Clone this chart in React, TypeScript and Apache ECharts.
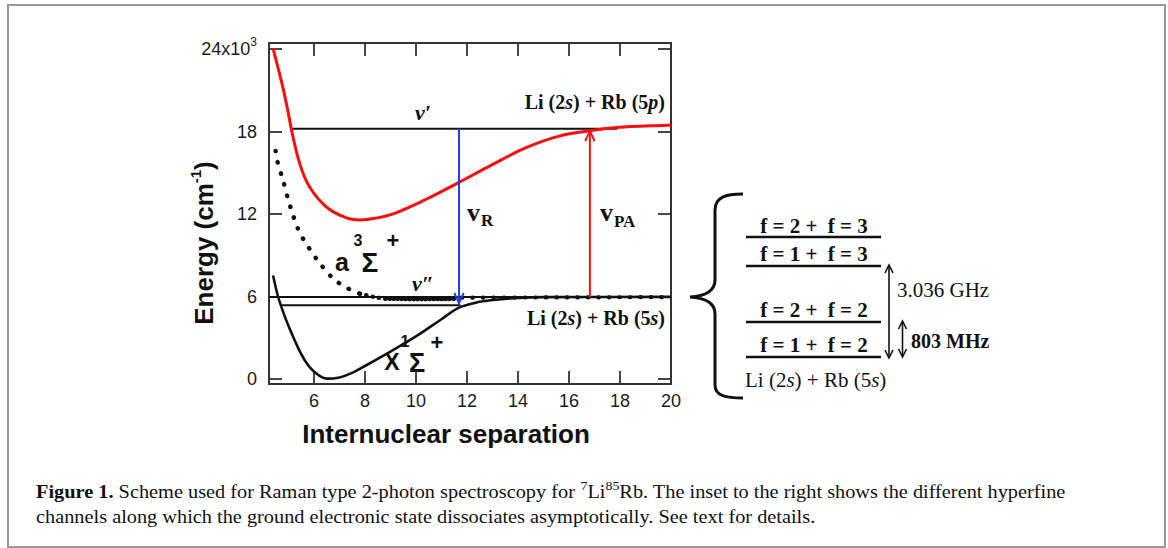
import React, { useEffect, useRef } from "react";
import * as echarts from "echarts";

const xTicks = [6, 8, 10, 12, 14, 16, 18, 20];
const yTicks = [0, 6, 12, 18, 24];
const xRange = [4.24, 20];
const yRange = [-0.36, 24.45];

// excited-state potential (red)
const excitedCurve = [
  [4.4, 24.05], [4.6, 22.6], [4.8, 21.1], [4.97, 19.6], [5.13, 18.06], [5.45, 15.64],
  [5.84, 13.95], [6.5, 12.5], [7.28, 11.72], [7.8, 11.58], [8.4, 11.7], [9.11, 12.02],
  [10.42, 13.1], [11.69, 14.31], [13.03, 15.64], [14.34, 16.85], [15.65, 17.69],
  [16.82, 18.06], [17.87, 18.3], [19.83, 18.47], [20.0, 18.48],
];
// ground X singlet potential (black solid)
const groundXCurve = [
  [4.4, 7.54], [4.6, 5.97], [4.85, 4.6], [5.1, 3.45], [5.4, 2.2], [5.7, 1.2], [6.0, 0.55],
  [6.5, 0.03], [7.0, 0.12], [7.5, 0.45], [8.0, 0.95], [9.0, 2.0], [10.0, 3.1], [11.0, 4.35],
  [11.69, 5.2], [12.5, 5.62], [13.03, 5.76], [14.0, 5.9], [15.0, 5.96], [20.0, 5.98],
];
// triplet a potential (black dotted)
const tripletSteep = [
  [4.5, 16.6], [4.56, 15.9], [4.8, 14.4], [4.97, 13.2], [5.16, 12.06], [5.36, 11.0],
  [5.58, 10.2], [6.1, 8.75], [6.76, 7.3], [7.28, 6.65], [7.8, 6.21],
];
const tripletBend = [[7.8, 6.21], [8.5, 5.92], [8.8, 5.84]];
const tripletFlat = [[8.8, 5.84], [10.0, 5.8], [11.5, 5.82]];
const tripletTail = [[11.8, 5.92], [20.0, 5.96]];

// levels and transitions
const vPrimeLevel = [[5.13, 18.22], [17.9, 18.22]];
const asymptoteLevel = [[4.24, 5.97], [20.0, 5.97]];
const vDoublePrimeLevel = [[4.68, 5.37], [11.75, 5.37]];
const ramanArrow = [[11.69, 18.22], [11.69, 5.37]];
const paArrow = [[16.82, 5.97], [16.82, 18.2]];

const hyperfineLabels = ["f = 2 +  f = 3", "f = 1 +  f = 3", "f = 2 +  f = 2", "f = 1 +  f = 2"];
const spacingLabels = ["3.036 GHz", "803 MHz"];

const serif = '"Liberation Serif", "Times New Roman", serif';
const sans = '"Liberation Sans", Arial, sans-serif';
const INK = "#111";
const RED = "#ff0d0d";
const BLUE = "#1f3fd8";

const chevronDown = "path://M0,1.2 L1.5,0 L5,7 L8.5,0 L10,1.2 L5,10 Z";
const chevronUp = "path://M0,8.8 L1.5,10 L5,3 L8.5,10 L10,8.8 L5,0 Z";

const bracePath =
  "M743,194 C726,194 715,197 715,210 L715,280 C715,291 706,296 690,297 C706,298 715,303 715,314 L715,385 C715,396 726,398 743,398";

echarts.graphic.registerShape("brace", echarts.graphic.extendPath(bracePath, {}));

function txt(x: number, y: number, text: string, font: string, extra: any = {}) {
  const align = extra.align || "center";
  const va = extra.verticalAlign || "middle";
  return {
    type: "text",
    x,
    y,
    silent: true,
    rotation: extra.rotation || 0,
    scaleX: extra.scaleX || 1,
    style: {
      text,
      font,
      fill: extra.fill || INK,
      align,
      verticalAlign: va,
      textAlign: align,
      textVerticalAlign: va,
      rich: extra.rich,
    },
  };
}

function hline(x1: number, x2: number, y: number, w = 2.5) {
  return { type: "line", silent: true, shape: { x1, y1: y, x2, y2: y }, style: { stroke: INK, lineWidth: w } };
}
function vline(x: number, y1: number, y2: number, w = 1.6) {
  return { type: "line", silent: true, shape: { x1: x, y1, x2: x, y2 }, style: { stroke: INK, lineWidth: w } };
}
function chev(points: number[][]) {
  return { type: "polyline", silent: true, shape: { points }, style: { stroke: INK, lineWidth: 1.6, fill: "none" } };
}

function lineSeries(data: number[][], color: string, width: number, extra: any = {}) {
  return {
    type: "line",
    data,
    symbol: "none",
    silent: true,
    smooth: extra.smooth || false,
    lineStyle: { color, width, type: extra.dash || "solid", cap: extra.cap || "butt" },
    z: extra.z || 2,
    ...(extra.markPoint ? { markPoint: extra.markPoint } : {}),
  };
}

export default function App() {
  const ref = useRef<HTMLDivElement>(null);

  useEffect(() => {
    if (!ref.current) return;
    const chart = echarts.init(ref.current, undefined, { renderer: "svg" });

    const axisLineStyle = { color: "#333", width: 2 };
    const tickStyle = { color: "#333", width: 1.8 };
    const labelStyle = { fontSize: 18, fontFamily: sans, color: "#1a1a1a" };

    const supRich = {
      a: { fontSize: 18, fontFamily: sans, color: "#1a1a1a", lineHeight: 26 },
      s: { fontSize: 12, fontFamily: sans, color: "#1a1a1a", lineHeight: 10, verticalAlign: "top" },
    };

    const capRich = {
      b: { font: `bold 19px ${serif}`, lineHeight: 24, fill: INK },
      n: { font: `19px ${serif}`, lineHeight: 24, fill: INK },
      s: { font: `13px ${serif}`, lineHeight: 12, verticalAlign: "top", fill: INK },
    };

    const labRich = {
      b: { font: `bold 20px ${serif}`, lineHeight: 24, fill: INK },
      i: { font: `italic bold 20px ${serif}`, lineHeight: 24, fill: INK },
    };

    const insetRich = {
      n: { font: `21px ${serif}`, lineHeight: 24, fill: INK },
      i: { font: `italic 21px ${serif}`, lineHeight: 24, fill: INK },
    };

    const yTitleRich = {
      m: { font: `bold 26px ${sans}`, lineHeight: 32, fill: INK },
      s: { font: `bold 15px ${sans}`, lineHeight: 12, verticalAlign: "top", fill: INK },
    };

    const insetLineY = [237, 266, 322, 357];
    const insetTextY = [226, 254, 310, 345];

    const graphic: any[] = [
      // figure frame
      {
        type: "rect",
        silent: true,
        shape: { x: 8, y: 5, width: 1157, height: 542 },
        style: { fill: "none", stroke: "#999", lineWidth: 2 },
        z: 0,
      },
      // axis titles
      txt(446, 434, "Internuclear separation", `bold 26px ${sans}`),
      txt(204, 243, "{m|Energy (cm}{s|-1}{m|)}", `bold 26px ${sans}`, { rotation: Math.PI / 2, rich: yTitleRich }),
      // in-plot annotations
      txt(423, 112, "v\u2032", `italic bold 22px ${serif}`),
      txt(665, 102, "{b|Li (2}{i|s}{b|) + Rb (5}{i|p}{b|)}", `bold 20px ${serif}`, { align: "right", rich: labRich }),
      txt(665, 318, "{b|Li (2}{i|s}{b|) + Rb (5}{i|s}{b|)}", `bold 20px ${serif}`, { align: "right", rich: labRich }),
      txt(423, 283, "v\u2033", `italic bold 22px ${serif}`),
      txt(467, 212, "v", `bold 26px ${serif}`, { align: "left" }),
      txt(481, 220, "R", `bold 17px ${serif}`, { align: "left" }),
      txt(600, 212, "v", `bold 26px ${serif}`, { align: "left" }),
      txt(614, 221, "PA", `bold 17px ${serif}`, { align: "left" }),
      // a 3Sigma+
      txt(342, 262, "a", `bold 25px ${sans}`),
      txt(358, 240, "3", `bold 16px ${sans}`),
      txt(370, 262, "\u03a3", `bold 28px ${sans}`),
      txt(393, 240, "+", `bold 22px ${sans}`),
      // X 1Sigma+
      txt(392, 362, "X", `bold 23px ${sans}`),
      txt(405, 341, "1", `bold 16px ${sans}`),
      txt(417, 363, "\u03a3", `bold 27px ${sans}`),
      txt(437, 342, "+", `bold 22px ${sans}`),
      // inset brace
      { type: "brace", x: 0, y: 0, silent: true, style: { fill: "none", stroke: INK, lineWidth: 3 } },
      // inset spacing arrows
      vline(889, 266, 357),
      chev([[885, 273], [889, 265], [893, 273]]),
      chev([[885, 350], [889, 358], [893, 350]]),
      vline(902.5, 322, 356),
      chev([[898.5, 329], [902.5, 321], [906.5, 329]]),
      chev([[898.5, 349], [902.5, 357], [906.5, 349]]),
      txt(897, 290, spacingLabels[0], `21px ${serif}`, { align: "left" }),
      txt(911, 341, spacingLabels[1], `bold 20px ${serif}`, { align: "left" }),
      txt(745, 380, "{n|Li (2}{i|s}{n|) + Rb (5}{i|s}{n|)}", `21px ${serif}`, { align: "left", rich: insetRich }),
      // caption
      txt(
        36,
        491,
        "{b|Figure 1.}{n| Scheme used for Raman type 2-photon spectroscopy for }{s|7}{n|Li}{s|85}{n|Rb. The inset to the right shows the different hyperfine}",
        `19px ${serif}`,
        { align: "left", rich: capRich, scaleX: 1.07 }
      ),
      txt(
        36,
        516,
        "channels along which the ground electronic state dissociates asymptotically. See text for details.",
        `19px ${serif}`,
        { align: "left", scaleX: 1.07 }
      ),
    ];
    hyperfineLabels.forEach((lab, i) => {
      graphic.push(hline(746, 881, insetLineY[i]));
      graphic.push(txt(814, insetTextY[i], lab, `bold 21px ${serif}`));
    });

    chart.setOption({
      animation: false,
      backgroundColor: "#fff",
      grid: { left: 269, top: 43, width: 402, height: 341, containLabel: false, outerBoundsMode: "none" },
      xAxis: [
        {
          type: "value",
          min: xRange[0],
          max: xRange[1],
          position: "bottom",
          axisLine: { show: true, onZero: false, lineStyle: axisLineStyle },
          axisTick: { show: true, inside: true, length: 13, customValues: xTicks, lineStyle: tickStyle },
          axisLabel: { show: true, margin: 8, customValues: xTicks, ...labelStyle },
          splitLine: { show: false },
        },
        {
          type: "value",
          min: xRange[0],
          max: xRange[1],
          position: "top",
          axisLine: { show: true, onZero: false, lineStyle: axisLineStyle },
          axisTick: { show: true, inside: true, length: 13, customValues: xTicks, lineStyle: tickStyle },
          axisLabel: { show: false },
          splitLine: { show: false },
        },
      ],
      yAxis: [
        {
          type: "value",
          min: yRange[0],
          max: yRange[1],
          position: "left",
          axisLine: { show: true, onZero: false, lineStyle: axisLineStyle },
          axisTick: { show: true, inside: true, length: 13, customValues: yTicks, lineStyle: tickStyle },
          axisLabel: {
            show: true,
            margin: 12,
            customValues: yTicks,
            ...labelStyle,
            formatter: (v: number) => (Math.round(v) === 24 ? "{a|24x10}{s|3}" : String(Math.round(v))),
            rich: supRich,
          },
          splitLine: { show: false },
        },
        {
          type: "value",
          min: yRange[0],
          max: yRange[1],
          position: "right",
          axisLine: { show: true, onZero: false, lineStyle: axisLineStyle },
          axisTick: { show: true, inside: true, length: 13, customValues: yTicks, lineStyle: tickStyle },
          axisLabel: { show: false },
          splitLine: { show: false },
        },
      ],
      series: [
        lineSeries(asymptoteLevel, INK, 2),
        lineSeries(vDoublePrimeLevel, INK, 2),
        lineSeries(vPrimeLevel, INK, 2),
        lineSeries(tripletSteep, INK, 4.4, { smooth: 0.3, dash: [0.5, 11], cap: "round" }),
        lineSeries(tripletBend, INK, 4.2, { smooth: 0.3, dash: [0.5, 6], cap: "round" }),
        lineSeries(tripletFlat, INK, 4.2, { smooth: 0.3, dash: [0.5, 3.5], cap: "round" }),
        lineSeries(tripletTail, INK, 4.2, { dash: [0.5, 10], cap: "round" }),
        lineSeries(groundXCurve, INK, 2.6, { smooth: 0.35, z: 3 }),
        lineSeries(excitedCurve, RED, 3, { smooth: 0.35, z: 3 }),
        lineSeries(ramanArrow, BLUE, 2, {
          z: 4,
          markPoint: {
            silent: true,
            symbol: chevronDown,
            symbolSize: [11, 13],
            symbolOffset: [0, -6.5],
            itemStyle: { color: BLUE },
            label: { show: false },
            data: [{ coord: ramanArrow[1] }],
          },
        }),
        lineSeries(paArrow, RED, 2, {
          z: 4,
          markPoint: {
            silent: true,
            symbol: chevronUp,
            symbolSize: [11, 13],
            symbolOffset: [0, 6.5],
            itemStyle: { color: RED },
            label: { show: false },
            data: [{ coord: paArrow[1] }],
          },
        }),
      ],
      graphic,
    });

    return () => chart.dispose();
  }, []);

  return (
    <div
      ref={ref}
      style={{ position: "absolute", left: 0, top: 0, width: 1168, height: 548, background: "#fff" }}
    />
  );
}
